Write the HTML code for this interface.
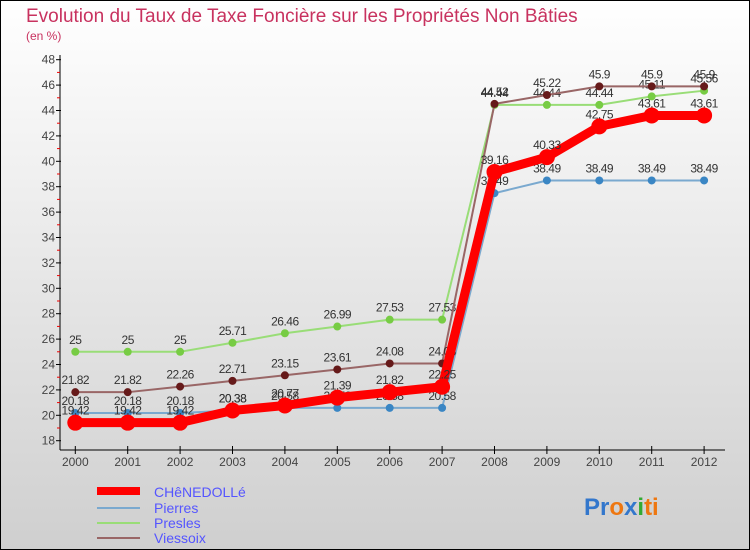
<!DOCTYPE html>
<html><head><meta charset="utf-8"><style>
body{margin:0;width:750px;height:550px;overflow:hidden}
svg{display:block;font-family:"Liberation Sans",sans-serif}
</style></head><body>
<svg id="c" width="750" height="550">
<defs><linearGradient id="bg" x1="0" y1="0" x2="0" y2="1"><stop offset="0" stop-color="#ffffff"/><stop offset="1" stop-color="#cfcfcf"/></linearGradient></defs>
<rect x="0.5" y="0.5" width="749" height="549" fill="url(#bg)" stroke="#000"/>
<text x="26" y="22" font-size="19" fill="#c8325f">Evolution du Taux de Taxe Foncière sur les Propriétés Non Bâties</text>
<text x="26" y="40" font-size="12" fill="#c8325f">(en %)</text>
<g id="axes"></g><g id="series"></g>
<g>
<rect x="97" y="487" width="43" height="8" fill="#f00"/>
<text x="154" y="497" font-size="14" fill="#5555ff">CHêNEDOLLé</text>
<rect x="97" y="507" width="43" height="2" fill="#7aa9cf"/>
<text x="154" y="513" font-size="14" fill="#5555ff">Pierres</text>
<rect x="97" y="522" width="43" height="2" fill="#99dd77"/>
<text x="154" y="528" font-size="14" fill="#5555ff">Presles</text>
<rect x="97" y="537" width="43" height="2" fill="#996666"/>
<text x="154" y="543" font-size="14" fill="#5555ff">Viessoix</text>
</g>
<text x="584" y="515" font-size="24" font-weight="bold"><tspan fill="#3377cc">Pr</tspan><tspan fill="#ee7711">o</tspan><tspan fill="#3377cc">x</tspan><tspan fill="#33aa33">i</tspan><tspan fill="#ee7711">ti</tspan></text>
</svg>
<script>
const years=[2000,2001,2002,2003,2004,2005,2006,2007,2008,2009,2010,2011,2012];
const yTicks=[18,20,22,24,26,28,30,32,34,36,38,40,42,44,46,48];
const chenedolle=[19.42,19.42,19.42,20.38,20.77,21.39,21.82,22.25,39.16,40.33,42.75,43.61,43.61];
const pierres=[20.18,20.18,20.18,20.38,20.58,20.58,20.58,20.58,37.49,38.49,38.49,38.49,38.49];
const presles=[25,25,25,25.71,26.46,26.99,27.53,27.53,44.44,44.44,44.44,45.11,45.56];
const viessoix=[21.82,21.82,22.26,22.71,23.15,23.61,24.08,24.08,44.52,45.22,45.9,45.9,45.9];
const NS="http://www.w3.org/2000/svg";
const X=i=>75.3+i*52.4;
const Y=v=>440.7-(v-18)*12.7;
function mk(p,t,a){const e=document.createElementNS(NS,t);for(const k in a)e.setAttribute(k,a[k]);p.appendChild(e);return e;}
const ax=document.getElementById('axes');
let l=mk(ax,'line',{x1:60,y1:55,x2:60,y2:450,stroke:'#000'});


l=mk(ax,'line',{x1:60,y1:450,x2:725,y2:450,stroke:'#000'});


yTicks.forEach((v,i)=>{
 mk(ax,'line',{x1:56,y1:Y(v),x2:61,y2:Y(v),stroke:'#000'});
 if(i<yTicks.length-1) mk(ax,'line',{x1:57,y1:Y(v+1),x2:60,y2:Y(v+1),stroke:'#e00'});
 const t=mk(ax,'text',{x:55,y:Y(v)+4,'font-size':12,fill:'#444','text-anchor':'end'});t.textContent=v;
 
 
});
years.forEach((yr,i)=>{
 mk(ax,'line',{x1:X(i),y1:446,x2:X(i),y2:454,stroke:'#000'});
 const t=mk(ax,'text',{x:X(i),y:466,'font-size':12,fill:'#444','text-anchor':'middle'});t.textContent=yr;
 
 
});
const sg=document.getElementById('series');
const series=[[pierres,'#7aa9cf','#3a86c4',2,4,'pierres'],[presles,'#99dd77','#77cc44',2,4,'presles'],[viessoix,'#996666','#661a1a',2,4,'viessoix'],[chenedolle,'#f00','#f00',9,8,'chenedolle']];
series.forEach(([d,lc,pc,w,r,n])=>{
 const g=mk(sg,'g',{});
 
 
 const p=mk(g,'polyline',{points:d.map((v,i)=>X(i)+','+Y(v)).join(' '),fill:'none',stroke:lc,'stroke-width':w,'stroke-linejoin':'round'});
 
 
 d.forEach((v,i)=>{
  const c=mk(g,'circle',{cx:X(i),cy:Y(v),r:r,fill:pc});
  
  
  const t=mk(g,'text',{x:X(i),y:Y(v)-8,'font-size':12,fill:'#333','text-anchor':'middle','letter-spacing':'-0.5'});t.textContent=v;
  
  
 });
});
</script>
</body></html>
